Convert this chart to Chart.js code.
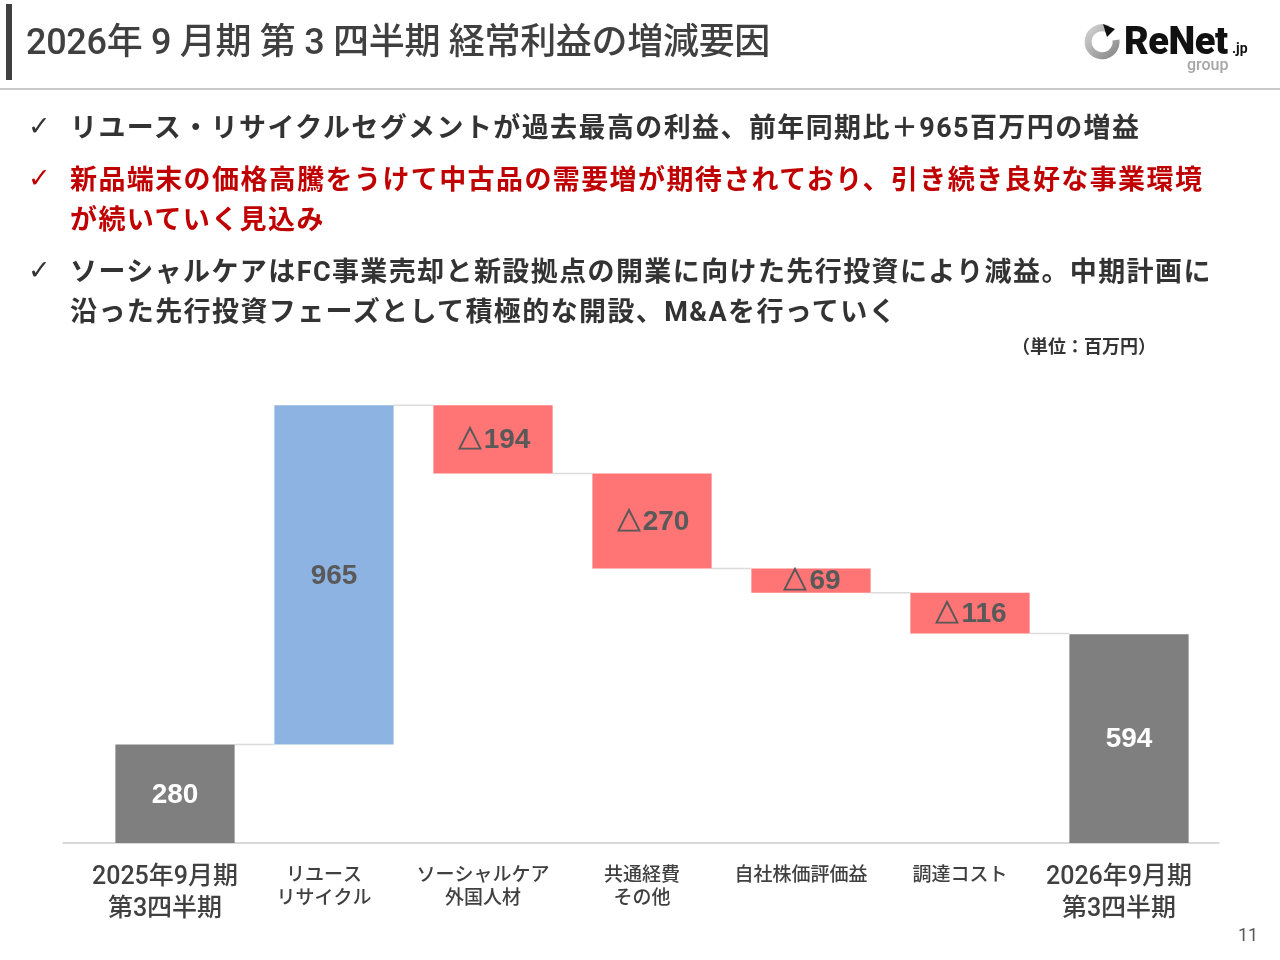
<!DOCTYPE html>
<html lang="ja">
<head>
<meta charset="utf-8">
<script src="https://cdn.jsdelivr.net/npm/chart.js@4.4.1/dist/chart.umd.min.js"></script>
<style>
  html, body { margin:0; padding:0; background:#fff; }
  body { width:1280px; height:960px; position:relative; overflow:hidden;
         font-family: "Roboto", "Noto Sans CJK JP", sans-serif; color:#333; }
  #wrap { position:absolute; left:0; top:0; width:1280px; height:960px; }
  .abs { position:absolute; white-space:nowrap; }
  #bar { left:6px; top:4px; width:6px; height:76px; background:#404040; }
  #rule { left:0; top:88px; width:1280px; height:2px; background:#c8c8c8; }
  #title { left:26px; top:20px; font-size:36px; font-weight:500; color:#404040; line-height:44px; letter-spacing:-0.3px; }
  .chk { font-family:"DejaVu Sans", sans-serif; font-size:27px; left:28px; }
  .bl { left:70px; font-size:27px; font-weight:700; line-height:40px; letter-spacing:1.4px;
        font-family:"Roboto","Noto Sans CJK JP",sans-serif; }
  .red { color:#c00000; }
  .dark { color:#333; }
  #unit { left:1012px; top:333px; font-size:18px; font-weight:700; color:#333; line-height:24px; font-family:"Noto Sans CJK JP",sans-serif; }
  #page { left:1238px; top:924px; font-size:18px; color:#595959; font-family:"Roboto",sans-serif; }
  #logoText { left:1124px; top:17px; font-size:38px; font-weight:900; color:#111; font-family:"Roboto","Liberation Sans",sans-serif; letter-spacing:-0.5px; line-height:48px; }
  #logoJp { left:1232px; top:40px; font-size:14px; font-weight:700; color:#111; font-family:"Roboto",sans-serif; }
  #logoGroup { left:1187px; top:55px; font-size:16px; font-weight:500; color:#a6a6a6; font-family:"Roboto",sans-serif; }
  #logoIcon { left:1081px; top:20px; }
</style>
</head>
<body>
<div id="wrap"><canvas id="c"></canvas></div>

<div class="abs" id="bar"></div>
<div class="abs" id="rule"></div>
<div class="abs" id="title">2026年 9 月期 第 3 四半期 経常利益の増減要因</div>

<svg class="abs" id="logoIcon" width="42" height="42" viewBox="0 0 42 42">
  <defs>
    <linearGradient id="g" x1="0" y1="0" x2="1" y2="1">
      <stop offset="0" stop-color="#d0d0d0"/>
      <stop offset="1" stop-color="#8a8a8a"/>
    </linearGradient>
  </defs>
  <path d="M 27 9 A 14 14 0 1 0 35 20" fill="none" stroke="url(#g)" stroke-width="7"/>
  <path d="M 22 4 L 34 9 L 26 17 Z" fill="#111"/>
</svg>
<div class="abs" id="logoText">ReNet</div>
<div class="abs" id="logoJp">.jp</div>
<div class="abs" id="logoGroup">group</div>

<div class="abs chk dark" style="top:110px;">✓</div>
<div class="abs bl dark" style="top:108px;">リユース・リサイクルセグメントが過去最高の利益、前年同期比＋965百万円の増益</div>
<div class="abs chk red" style="top:162px;">✓</div>
<div class="abs bl red" style="top:160px;">新品端末の価格高騰をうけて中古品の需要増が期待されており、引き続き良好な事業環境<br>が続いていく見込み</div>
<div class="abs chk dark" style="top:254px;">✓</div>
<div class="abs bl dark" style="top:252px;">ソーシャルケアはFC事業売却と新設拠点の開業に向けた先行投資により減益。中期計画に<br>沿った先行投資フェーズとして積極的な開設、M&amp;Aを行っていく</div>

<div class="abs" id="unit">（単位：百万円）</div>
<div class="abs" id="page">11</div>

<script>
// ---- data ----
const categories = [
  ["2025年9月期", "第3四半期"],
  ["リユース", "リサイクル"],
  ["ソーシャルケア", "外国人材"],
  ["共通経費", "その他"],
  ["自社株価評価益"],
  ["調達コスト"],
  ["2026年9月期", "第3四半期"]
];
const values = [280, 965, -194, -270, -69, -116, 594];
const barTypes = ["total", "delta", "delta", "delta", "delta", "delta", "total"];
const yMax = 1320;

// colours
const colTotal = "#7f7f7f";
const colUp = "#8db3e2";
const colDown = "#ff7474";

// build floating ranges
let running = 0;
const ranges = values.map((v, i) => {
  if (barTypes[i] === "total") { running = v; return [0, v]; }
  const r = [running, running + v];
  running += v;
  return r;
});
const colors = values.map((v, i) => barTypes[i] === "total" ? colTotal : (v >= 0 ? colUp : colDown));
const labelText = values.map(v => v < 0 ? "△" + Math.abs(v) : String(v));
const labelColors = barTypes.map(t => t === "total" ? "#ffffff" : "#595959");

const waterfallPlugin = {
  id: "waterfall",
  beforeDatasetsDraw(chart) {
    const ctx = chart.ctx;
    const y = chart.scales.y;
    const area = chart.chartArea;
    // baseline
    ctx.save();
    ctx.strokeStyle = "#d9d9d9";
    ctx.lineWidth = 2;
    ctx.beginPath();
    const by = y.getPixelForValue(0);
    ctx.moveTo(area.left - 33, by);
    ctx.lineTo(area.right + 11, by);
    ctx.stroke();
    // connectors
    const meta = chart.getDatasetMeta(0);
    ctx.strokeStyle = "#dcdcdc";
    ctx.lineWidth = 1.5;
    for (let i = 0; i < meta.data.length - 1; i++) {
      const a = meta.data[i], b = meta.data[i + 1];
      const level = ranges[i][1];
      const py = y.getPixelForValue(level);
      ctx.beginPath();
      ctx.moveTo(a.x + a.width / 2, py);
      ctx.lineTo(b.x - b.width / 2, py);
      ctx.stroke();
    }
    ctx.restore();
  },
  afterDatasetsDraw(chart) {
    const ctx = chart.ctx;
    const meta = chart.getDatasetMeta(0);
    ctx.save();
    ctx.font = "bold 28px 'Liberation Sans', Arial, sans-serif";
    ctx.textAlign = "center";
    ctx.textBaseline = "middle";
    meta.data.forEach((el, i) => {
      const cy = (el.y + el.base) / 2;
      ctx.fillStyle = labelColors[i];
      ctx.fillText(labelText[i], el.x, cy + 1);
    });
    ctx.restore();
  }
};

new Chart(document.getElementById("c"), {
  type: "bar",
  data: {
    labels: categories,
    datasets: [{
      data: ranges,
      backgroundColor: colors,
      borderWidth: 0,
      categoryPercentage: 1.0,
      barPercentage: 0.75
    }]
  },
  options: {
    responsive: true,
    maintainAspectRatio: false,
    animation: false,
    layout: { padding: { left: 95.5, right: 71.5, top: 379, bottom: 0 } },
    plugins: { legend: { display: false }, tooltip: { enabled: false } },
    scales: {
      x: {
        grid: { display: false, drawTicks: false },
        border: { display: false },
        afterFit(scale) { scale.height = 117; },
        ticks: {
          padding: 19,
          labelOffset: -10,
          maxRotation: 0,
          autoSkip: false,
          color: "#404040",
          font: (ctx) => {
            const big = barTypes[ctx.index] === "total";
            return big
              ? { family: "'Roboto','Noto Sans CJK JP',sans-serif", size: 25, weight: "500", lineHeight: "32px" }
              : { family: "'Noto Sans CJK JP',sans-serif", size: 19, weight: "500", lineHeight: "23px" };
          }
        }
      },
      y: {
        display: false,
        min: 0,
        max: yMax
      }
    }
  },
  plugins: [waterfallPlugin]
});
</script>
</body>
</html>
